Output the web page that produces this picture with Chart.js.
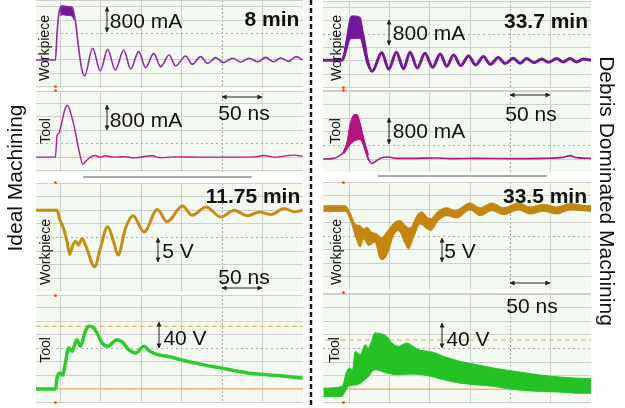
<!DOCTYPE html>
<html>
<head>
<meta charset="utf-8">
<script src="https://cdn.jsdelivr.net/npm/chart.js@4.4.0/dist/chart.umd.min.js"></script>
<style>
  body { margin: 0; background: #fff; }
  #page { position: relative; width: 625px; height: 408px; overflow: hidden;
          font-family: "Liberation Sans", Arial, sans-serif; color: #111; }
  .scope { position: absolute; background: #f4f9f1; }
  .lbl { position: absolute; white-space: nowrap; line-height: 1; font-size: 21px;
         transform: translate(-50%, -50%); }
  .b { font-weight: bold; }
  .ch { font-size: 14px; transform: translate(-50%, -50%) rotate(-90deg); }
  .side { font-size: 21px; }
  .bar { position: absolute; height: 2px; background: #a9a9a9; }
  .trig { position: absolute; width: 3px; height: 3px; background: #f25a1e; border-radius: 50%; }
  svg { position: absolute; left: 0; top: 0; }
  .arr { stroke: #222; stroke-width: 1; marker-start: url(#ah); marker-end: url(#ah); }
</style>
</head>
<body>
<div id="page">
  <canvas id="l1" class="scope" width="267" height="88"  style="left:36px;top:0px"></canvas>
  <canvas id="l2" class="scope" width="267" height="81"  style="left:36px;top:91px"></canvas>
  <canvas id="l3" class="scope" width="267" height="109" style="left:36px;top:183px"></canvas>
  <canvas id="l4" class="scope" width="267" height="108" style="left:36px;top:295px"></canvas>
  <canvas id="r1" class="scope" width="268" height="87"  style="left:323px;top:1px"></canvas>
  <canvas id="r2" class="scope" width="268" height="82"  style="left:323px;top:90px"></canvas>
  <canvas id="r3" class="scope" width="268" height="108" style="left:323px;top:182px"></canvas>
  <canvas id="r4" class="scope" width="268" height="111" style="left:323px;top:293px"></canvas>

  <div class="bar" style="left:83px;top:176px;width:169px"></div>
  <div class="bar" style="left:378px;top:175px;width:169px"></div>

  <div class="trig" style="left:54px;top:85px"></div>
  <div class="trig" style="left:54px;top:89px"></div>
  <div class="trig" style="left:54px;top:181px"></div>
  <div class="trig" style="left:54px;top:294px"></div>
  <div class="trig" style="left:54px;top:401px"></div>
  <div class="trig" style="left:342px;top:86px"></div>
  <div class="trig" style="left:342px;top:89px"></div>
  <div class="trig" style="left:342px;top:181px"></div>
  <div class="trig" style="left:342px;top:291px"></div>
  <div class="trig" style="left:342px;top:401px"></div>

  <svg width="625" height="408">
    <defs>
      <marker id="ah" viewBox="0 0 6 6" refX="5.5" refY="3" markerWidth="5" markerHeight="5" orient="auto-start-reverse">
        <path d="M0,0 L6,3 L0,6 z" fill="#222"/>
      </marker>
    </defs>
    <line x1="311" y1="0" x2="311" y2="408" stroke="#111" stroke-width="2.5" stroke-dasharray="5 3"/>
    <line class="arr" x1="107" y1="7" x2="107" y2="32"/>
    <line class="arr" x1="107" y1="105" x2="107" y2="130"/>
    <line class="arr" x1="158" y1="238" x2="158" y2="262"/>
    <line class="arr" x1="159" y1="322" x2="159" y2="348"/>
    <line class="arr" x1="389" y1="20" x2="389" y2="45"/>
    <line class="arr" x1="389" y1="118" x2="389" y2="144"/>
    <line class="arr" x1="442" y1="238" x2="442" y2="262"/>
    <line class="arr" x1="442" y1="323" x2="442" y2="348"/>
    <line class="arr" x1="222" y1="97" x2="262" y2="97"/>
    <line class="arr" x1="222" y1="288" x2="262" y2="288"/>
    <line class="arr" x1="510" y1="95" x2="550" y2="95"/>
    <line class="arr" x1="510" y1="283" x2="550" y2="283"/>
  </svg>

  <div class="lbl" style="left:146px;top:20px">800 mA</div>
  <div class="lbl b" style="left:272px;top:18px">8 min</div>
  <div class="lbl ch" style="left:44px;top:48px">Workpiece</div>
  <div class="lbl" style="left:146px;top:119px">800 mA</div>
  <div class="lbl" style="left:244px;top:112px">50 ns</div>
  <div class="lbl ch" style="left:45px;top:131px">Tool</div>
  <div class="lbl b" style="left:253px;top:195px">11.75 min</div>
  <div class="lbl" style="left:178px;top:250px">5 V</div>
  <div class="lbl" style="left:244px;top:276px">50 ns</div>
  <div class="lbl ch" style="left:45px;top:252px">Workpiece</div>
  <div class="lbl" style="left:185px;top:337px">40 V</div>
  <div class="lbl ch" style="left:45px;top:350px">Tool</div>

  <div class="lbl" style="left:429px;top:32px">800 mA</div>
  <div class="lbl b" style="left:546px;top:20px">33.7 min</div>
  <div class="lbl ch" style="left:336px;top:48px">Workpiece</div>
  <div class="lbl" style="left:531px;top:113px">50 ns</div>
  <div class="lbl" style="left:429px;top:130px">800 mA</div>
  <div class="lbl ch" style="left:335px;top:131px">Tool</div>
  <div class="lbl b" style="left:545px;top:195px">33.5 min</div>
  <div class="lbl" style="left:460px;top:250px">5 V</div>
  <div class="lbl ch" style="left:336px;top:252px">Workpiece</div>
  <div class="lbl" style="left:532px;top:305px">50 ns</div>
  <div class="lbl" style="left:468px;top:338px">40 V</div>
  <div class="lbl ch" style="left:334px;top:350px">Tool</div>

  <div class="lbl side" style="left:14px;top:178px;transform:translate(-50%,-50%) rotate(-90deg)">Ideal Machining</div>
  <div class="lbl side" style="left:607px;top:191px;transform:translate(-50%,-50%) rotate(90deg)">Debris Dominated Machining</div>
</div>

<script>
// time in screen divisions (1 div = 50 ns), amplitude in screen divisions above the trace baseline
const timeGrid = [0, 1, 2, 3, 4, 5, 6];

// Ideal machining, 8 min : workpiece current
const l1Time = [-0.6,-0.12,-0.08,-0.02,0.04,0.17,0.29,0.37,0.45,0.52,0.60,0.80,0.99,1.17,1.36,1.57,1.74,1.94,2.11,2.31,2.48,2.69,2.85,3.10,3.26,3.47,3.64,3.84,4.03,4.26,4.46,4.67,4.88,5.08,5.27,5.45,5.64,5.83,5.99];
const l1Current = [0,0,2.0,3.75,4.05,4.0,3.95,3.0,1.0,-0.5,-1.2,0.88,-0.83,0.80,-0.75,0.75,-0.68,0.63,-0.58,0.50,-0.50,0.38,-0.43,0.30,-0.33,0.25,-0.25,0.18,-0.20,0.13,-0.15,0.13,-0.13,0.20,-0.13,0.15,-0.10,0.25,0.0];
const l1BurstTime = [0.0,0.04,0.17,0.29,0.34];
const l1BurstTop = [3.6,4.05,4.0,3.95,3.3];
const l1BurstLow = [3.3,3.4,3.35,3.3,3.0];

// Ideal machining : tool current
const l2Time = [-0.6,-0.12,-0.08,-0.04,0.04,0.12,0.18,0.26,0.37,0.47,0.56,0.64,0.74,0.87,0.99,1.12,1.32,1.57,1.82,2.27,2.48,2.81,3.47,4.30,4.79,5.04,5.29,5.79,5.99];
const l2Current = [0,0,1.63,1.75,2.6,3.6,3.85,3.25,1.9,0.4,-0.52,-0.27,0,0.12,0,0.1,0,0.03,-0.05,0.1,-0.05,0.02,0,0,0.02,0.12,0,0.15,0.05];

// Ideal machining, 11.75 min : workpiece voltage
const l3Time = [-0.6,-0.08,-0.02,0.08,0.17,0.23,0.31,0.38,0.45,0.54,0.64,0.85,0.99,1.17,1.32,1.43,1.61,1.80,2.07,2.40,2.64,3.02,3.26,3.60,3.97,4.30,4.63,4.92,5.21,5.54,5.79,5.99];
const l3Voltage = [0,0,-0.61,-1.34,-2.32,-3.24,-2.56,-2.27,-2.56,-2.07,-2.68,-4.15,-2.80,-1.22,-2.32,-3.29,-1.34,-0.41,-1.59,0.05,-0.85,0.32,-0.37,0.24,-0.49,0,-0.41,-0.12,-0.32,0.12,-0.12,0];

// Ideal machining : tool voltage
const l4Time = [-0.6,-0.12,-0.08,0.0,0.06,0.12,0.21,0.29,0.41,0.50,0.62,0.70,0.83,0.93,1.03,1.17,1.40,1.53,1.69,1.86,2.07,2.19,2.40,2.64,2.98,3.31,3.64,3.97,4.30,4.63,4.96,5.37,5.70,5.99];
const l4Voltage = [0,0,0.81,1.19,1.01,1.80,3.04,2.79,3.65,3.16,4.27,4.64,4.52,4.02,3.41,3.16,3.65,3.48,2.91,2.67,3.16,2.84,2.54,2.42,2.17,1.93,1.73,1.56,1.36,1.19,1.09,0.99,0.89,0.81];
const l4Levels = [4.64, 0];

// Debris dominated, 33.7 min : workpiece current
const r1Time = [-0.65,-0.18,-0.12,-0.06,0.02,0.07,0.27,0.36,0.44,0.57,0.81,0.98,1.17,1.35,1.51,1.69,1.88,2.07,2.26,2.42,2.59,2.77,2.96,3.14,3.33,3.50,3.70,3.87,4.07,4.24,4.40,4.59,4.78,4.94,5.15,5.31,5.48,5.64,5.81,6.0];
const r1Current = [0.05,0.05,0.45,1.3,2.4,2.5,2.5,1.6,0.2,-0.77,0.63,-0.63,0.65,-0.58,0.65,-0.53,0.58,-0.48,0.53,-0.40,0.45,-0.35,0.38,-0.30,0.33,-0.25,0.25,-0.20,0.20,-0.18,0.18,-0.13,0.15,-0.10,0.18,-0.08,0.18,-0.08,0.15,0.05];
const r1BurstTime = [-0.14,-0.06,0.02,0.07,0.27,0.35,0.43,0.50,0.57];
const r1BurstTop = [0.3,1.83,3.2,3.38,3.28,2.1,0.5,-0.55,-0.75];
const r1BurstLow = [0.12,0.83,1.63,1.68,1.7,0.9,-0.1,-0.6,-0.8];

// Debris dominated : tool current
const r2Time = [-0.65,-0.43,-0.31,-0.14,-0.07,-0.02,0.07,0.15,0.23,0.31,0.44,0.56,0.69,0.81,0.98,1.18,1.51,2.17,2.50,3.17,3.99,4.82,5.31,5.48,5.64,6.0];
const r2Current = [0,0.03,0.12,0.5,0.9,1.0,2.2,3.1,2.4,1.6,0.3,-0.33,-0.1,0.1,0.15,0.05,0.05,0.08,0.03,0.05,0.03,0.05,0.12,0.25,0.1,0.05];
const r2BurstTime = [-0.14,-0.06,0.02,0.11,0.19,0.27,0.36,0.48];
const r2BurstTop = [0.6,1.18,2.55,3.25,3.3,2.68,1.55,0.3];
const r2BurstLow = [0.35,0.7,1.05,1.3,1.4,1.43,0.93,-0.15];

// Debris dominated, 33.5 min : workpiece voltage (envelope of the band)
const r3TopTime = [-0.64,-0.10,0.02,0.15,0.27,0.36,0.44,0.56,0.69,0.81,0.93,1.14,1.26,1.43,1.51,1.68,1.80,1.93,2.02,2.21,2.42,2.63,3.00,3.25,3.54,3.83,4.20,4.49,4.82,5.15,5.48,5.89,6.0];
const r3Top = [0.24,0.24,-0.24,-1.10,-1.22,-1.46,-1.34,-1.71,-1.83,-2.1,-1.7,-0.95,-0.85,-1.3,-1.4,-0.5,-0.2,-0.6,-0.7,-0.15,0.1,-0.1,0.45,0.1,0.45,0.1,0.45,0.15,0.35,0.15,0.4,0.25,0.25];
const r3LowTime = [-0.64,-0.10,0.02,0.19,0.27,0.36,0.48,0.64,0.77,0.83,0.95,1.10,1.22,1.39,1.47,1.60,1.76,1.93,2.02,2.21,2.42,2.67,3.00,3.25,3.54,3.83,4.20,4.49,4.82,5.15,5.48,6.0];
const r3Low = [-0.17,-0.17,-0.73,-2.32,-2.80,-2.20,-2.68,-2.44,-3.66,-3.73,-3.29,-1.95,-1.59,-2.56,-2.93,-2.07,-1.10,-1.46,-1.59,-0.85,-0.49,-0.66,-0.07,-0.49,-0.12,-0.41,-0.07,-0.37,-0.17,-0.37,-0.07,-0.17];

// Debris dominated : tool voltage (envelope of the band)
const r4TopTime = [-0.64,-0.18,-0.06,0.02,0.08,0.15,0.27,0.40,0.48,0.54,0.64,0.81,0.93,1.06,1.22,1.43,1.55,1.72,1.97,2.13,2.34,2.75,3.17,3.58,3.99,4.40,4.82,5.23,5.64,6.0];
const r4Top = [0.07,0.20,1.31,1.56,1.36,2.79,2.54,3.28,3.04,3.41,4.15,4.07,3.90,3.41,3.16,3.41,3.23,2.91,2.79,2.67,2.42,2.05,1.80,1.56,1.36,1.19,1.01,0.89,0.81,0.77];
const r4LowTime = [-0.64,-0.18,-0.10,-0.02,0.19,0.44,0.64,0.93,1.18,1.51,1.93,2.34,2.75,3.17,3.58,3.99,4.40,4.82,5.23,5.64,6.0];
const r4Low = [-0.54,-0.54,-0.17,0.20,0.32,0.81,1.43,1.19,1.06,1.11,1.01,0.69,0.44,0.32,0.20,0.02,-0.12,-0.17,-0.22,-0.30,-0.30];
const r4Levels = [3.63, 0];

function pts(xs, ys) {
  return xs.map((x, i) => ({ x: x, y: ys[i] }));
}

function trace(xs, ys, color, width) {
  return { data: pts(xs, ys), borderColor: color, borderWidth: width, fill: false, order: 0 };
}

function band(xs, ys, color, fillTo) {
  return { data: pts(xs, ys), borderColor: color, borderWidth: 1,
           fill: fillTo, backgroundColor: color, order: 0 };
}

function level(y, dashed) {
  return { data: [{ x: -1, y: y }, { x: 7, y: y }], borderColor: '#f3a64c', borderWidth: 1,
           borderDash: dashed ? [5, 3] : [], fill: false, order: 1, cubicInterpolationMode: 'default', tension: 0 };
}

function scope(id, xMin, yMin, yMax, yCenter, datasets) {
  const yTicks = [yMin];
  for (let v = Math.ceil(yMin); v <= yMax; v++) yTicks.push(v);
  yTicks.push(yMax);

  return new Chart(document.getElementById(id), {
    type: 'line',
    data: { datasets: datasets },
    options: {
      responsive: false,
      animation: false,
      devicePixelRatio: 1,
      layout: { padding: 0 },
      plugins: { legend: { display: false }, tooltip: { enabled: false } },
      elements: {
        point: { radius: 0 },
        line: { cubicInterpolationMode: 'monotone', borderJoinStyle: 'round' }
      },
      scales: {
        x: {
          type: 'linear', min: xMin, max: 6,
          afterBuildTicks: s => { s.ticks = timeGrid.map(v => ({ value: v })); },
          ticks: { display: false },
          grid: { drawTicks: false, color: c => c.tick && c.tick.value === 4 ? '#a2a2a2' : '#cfcfcf' },
          border: { display: false, dash: c => c.tick && c.tick.value === 4 ? [2, 2] : [] }
        },
        y: {
          type: 'linear', min: yMin, max: yMax,
          afterBuildTicks: s => { s.ticks = yTicks.map(v => ({ value: v })); },
          ticks: { display: false },
          grid: { drawTicks: false, color: c => c.tick && c.tick.value === yCenter ? '#adadad' : '#cfcfcf' },
          border: { display: false, dash: c => c.tick && c.tick.value === yCenter ? [2, 3] : [] }
        }
      }
    }
  });
}

const purple = '#8f2aa8', purpleDark = '#75179b';
const magenta = '#c4168e', magentaDark = '#b5137f';
const amber = '#c98b12', amberDark = '#c4860f';
const green = '#2fca2f', greenDark = '#25c225';

scope('l1', -0.6, -2.1, 4.5, 2, [
  trace(l1Time, l1Current, purple, 1.6),
  band(l1BurstTime, l1BurstTop, purpleDark, false),
  band(l1BurstTime, l1BurstLow, purpleDark, '-1')
]);
scope('l2', -0.6, -1.1, 4.9, 1, [trace(l2Time, l2Current, magenta, 1.4)]);
scope('l3', -0.6, -6.0, 2.0, -2, [trace(l3Time, l3Voltage, amber, 3)]);
scope('l4', -0.6, -1.04, 6.96, 3, [
  trace(l4Time, l4Voltage, green, 3.5),
  level(l4Levels[0], true), level(l4Levels[1], false)
]);

scope('r1', -0.65, -2.03, 4.5, 2, [
  trace(r1Time, r1Current, purpleDark, 3),
  band(r1BurstTime, r1BurstTop, purpleDark, false),
  band(r1BurstTime, r1BurstLow, purpleDark, '-1')
]);
scope('r2', -0.65, -0.96, 5.1, 1, [
  trace(r2Time, r2Current, magentaDark, 1.6),
  band(r2BurstTime, r2BurstTop, magentaDark, false),
  band(r2BurstTime, r2BurstLow, magentaDark, '-1')
]);
scope('r3', -0.65, -5.96, 1.99, -2, [
  band(r3TopTime, r3Top, amberDark, false),
  band(r3LowTime, r3Low, amberDark, '-1')
]);
scope('r4', -0.65, -1.1, 7.1, 3, [
  band(r4TopTime, r4Top, greenDark, false),
  band(r4LowTime, r4Low, greenDark, '-1'),
  level(r4Levels[0], true), level(r4Levels[1], false)
]);
</script>
</body>
</html>
